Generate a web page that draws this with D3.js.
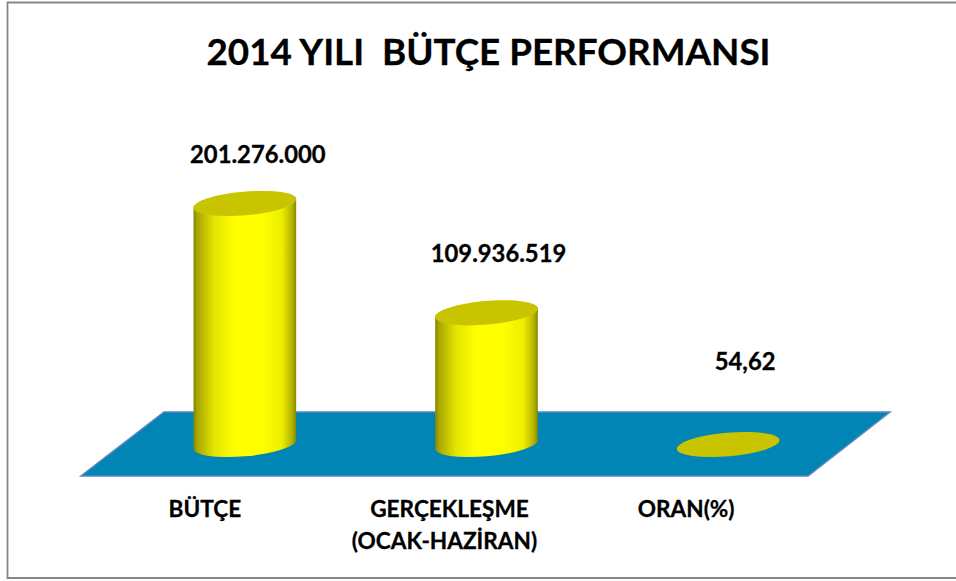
<!DOCTYPE html>
<meta charset="utf-8">
<style>
body { margin: 0; background: #fff; }
text { font-family: Lato, Carlito, sans-serif; font-weight: bold; fill: #000; stroke: #000; stroke-width: 0.3px; }
</style>

<svg width="956" height="581"></svg>

<script src="https://d3js.org/d3.v7.min.js"></script>
<script>

var categories = ["BÜTÇE", "GERÇEKLEŞME", "ORAN(%)"];
var catLine2 = ["", "(OCAK-HAZİRAN)", ""];
var values = [201276000, 109936519, 54.62];
var valueLabels = ["201.276.000", "109.936.519", "54,62"];

// the original labels sit off-centre from the cylinders
var catOffset = [-40, -37, -42];
var line2Offset = [0, -42, 0];
var labelOffset = [13, 12, 17];
var labelGap = [41, 51, 74];

var svg = d3.select("svg");

var x = d3.scaleBand().domain(categories).range([124, 849]);
var y = d3.scaleLinear().domain([0, 201276000]).range([444.5, 203.5]);

var hw = 51.5, ry = 11.8, rot = -5;

// frame
svg.append("path")
    .attr("d", "M956,2.5H7.5V578H956")
    .attr("fill", "none")
    .attr("stroke", "#868686")
    .attr("stroke-width", 1.8);

// title
svg.append("text")
    .attr("x", 488.5)
    .attr("y", 64.5)
    .attr("text-anchor", "middle")
    .attr("font-size", 36.8)
    .style("white-space", "pre")
    .text("2014 YILI  BÜTÇE PERFORMANSI");

// floor
svg.append("path")
    .attr("d", d3.line()([[164, 412], [890, 412], [808, 476], [81, 476]]) + "Z")
    .attr("fill", "#0085b5")
    .attr("stroke", "#5b85bd")
    .attr("stroke-width", 1.5);

// shading of the cylinder side
var grad = svg.append("defs").append("linearGradient").attr("id", "side");
[[0, "#868600"], [0.04, "#a8a800"], [0.2, "#e4e400"], [0.4, "#ffff00"],
 [0.66, "#ffff00"], [0.86, "#eeee00"], [0.96, "#b4b400"], [1, "#868600"]].forEach(function(s) {
  grad.append("stop").attr("offset", s[0]).attr("stop-color", s[1]);
});

// tangent point of the tilted ellipse, where the side walls start
var th = rot * Math.PI / 180;
var t = Math.atan2(-ry * Math.sin(th), hw * Math.cos(th));
var tx = hw * Math.cos(t) * Math.cos(th) - ry * Math.sin(t) * Math.sin(th);
var ty = hw * Math.cos(t) * Math.sin(th) + ry * Math.sin(t) * Math.cos(th);

function side(d) {
  var cx = x(d.cat) + x.bandwidth() / 2, top = y(d.value), base = y(0);
  var arc = "A" + hw + "," + ry + " " + rot + " 0 0 ";
  return "M" + (cx - tx) + "," + (top - ty) +
    "L" + (cx - tx) + "," + (base - ty) +
    arc + (cx + tx) + "," + (base + ty) +
    "L" + (cx + tx) + "," + (top + ty) +
    arc + (cx - tx) + "," + (top - ty) + "Z";
}

var data = categories.map(function(c, i) { return {cat: c, value: values[i], i: i}; });

var bars = svg.append("g").selectAll("g")
  .data(data)
  .enter().append("g");

bars.filter(function(d) { return y(0) - y(d.value) > 1; })
  .append("path")
    .attr("d", side)
    .attr("fill", "url(#side)");

bars.append("ellipse")
    .attr("rx", hw)
    .attr("ry", ry)
    .attr("transform", function(d) {
      return "translate(" + (x(d.cat) + x.bandwidth() / 2) + "," + y(d.value) + ") rotate(" + rot + ")";
    })
    .attr("fill", "#c8c400");

// value labels
bars.append("text")
    .attr("x", function(d) { return x(d.cat) + x.bandwidth() / 2 + labelOffset[d.i]; })
    .attr("y", function(d) { return y(d.value) - labelGap[d.i]; })
    .attr("text-anchor", "middle")
    .attr("font-size", 23.8)
    .text(function(d) { return valueLabels[d.i]; });

bars.append("text")
    .attr("x", function(d) { return x(d.cat) + x.bandwidth() / 2 + catOffset[d.i]; })
    .attr("y", 517)
    .attr("text-anchor", "middle")
    .attr("font-size", 22.6)
    .text(function(d) { return d.cat; });

bars.append("text")
    .attr("x", function(d) { return x(d.cat) + x.bandwidth() / 2 + line2Offset[d.i]; })
    .attr("y", 549)
    .attr("text-anchor", "middle")
    .attr("font-size", 22.6)
    .text(function(d) { return catLine2[d.i]; });

</script>
